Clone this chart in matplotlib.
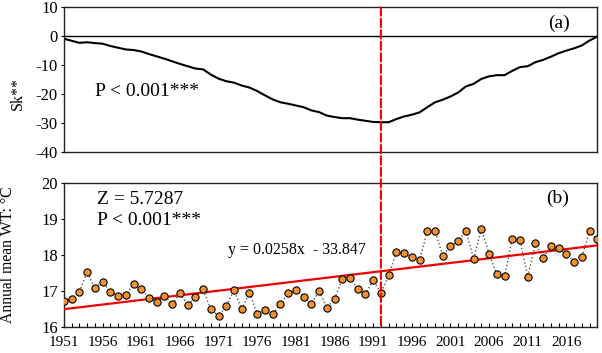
#!/usr/bin/env python

import numpy as np
import matplotlib.pyplot as plt
from matplotlib.patches import ConnectionPatch

# ----------------------------------------------------------------------
# Data
# ----------------------------------------------------------------------

years = np.arange(1951, 2021)

# (a) sequential statistic Sk
sk = [-0.9, -1.6, -2.3, -2.1, -2.4, -2.6, -3.4, -4.0, -4.6, -4.8,
      -5.3, -6.2, -7.0, -7.8, -8.7, -9.6, -10.4, -11.2, -11.5, -13.3,
      -14.7, -15.6, -16.1, -17.1, -17.8, -19.0, -20.5, -21.9, -22.9, -23.4,
      -24.0, -24.6, -25.7, -26.3, -27.5, -28.0, -28.4, -28.4, -28.9, -29.3,
      -29.7, -29.8, -29.8, -28.7, -27.8, -27.2, -26.4, -24.6, -22.9, -22.0,
      -20.9, -19.5, -17.4, -16.5, -14.8, -13.9, -13.5, -13.5, -12.0, -10.7,
      -10.4, -9.0, -8.2, -7.1, -5.9, -5.0, -4.2, -3.2, -1.5, -0.1]

# (b) annual mean water temperature
wt = [16.72, 16.78, 16.98, 17.53, 17.07, 17.25, 16.97, 16.87, 16.89, 17.19,
      17.04, 16.81, 16.69, 16.87, 16.62, 16.95, 16.60, 16.83, 17.04, 16.49,
      16.29, 16.59, 17.01, 16.49, 16.94, 16.35, 16.47, 16.35, 16.64, 16.93,
      17.01, 16.83, 16.64, 17.00, 16.53, 16.77, 17.33, 17.37, 17.05, 16.91,
      17.30, 16.94, 17.43, 18.08, 18.06, 17.95, 17.85, 18.66, 18.67, 17.98,
      18.24, 18.38, 18.68, 17.89, 18.72, 18.03, 17.47, 17.42, 18.46, 18.42,
      17.40, 18.33, 17.92, 18.25, 18.19, 18.03, 17.81, 17.95, 18.66, 18.44]

slope = 0.0258
intercept = -33.847
change_year = 1992

xtick_years = np.arange(1951, 2020, 5)

# ----------------------------------------------------------------------
# Plot
# ----------------------------------------------------------------------

plt.rcParams['font.family'] = ['Liberation Serif', 'DejaVu Serif']
plt.rcParams['axes.unicode_minus'] = False
plt.rcParams['axes.linewidth'] = 1.0
plt.rcParams['axes.edgecolor'] = '#222222'

fig = plt.figure(figsize=(6.02, 3.53), dpi=100)
ax1 = fig.add_axes([0.1063, 0.5703, 0.8859, 0.4090])
ax2 = fig.add_axes([0.1063, 0.0745, 0.8859, 0.4062])

# top panel
ax1.plot(years, sk, color='black', lw=1.5)
ax1.axhline(0, color='black', lw=1.0)
ax1.set_xlim(1951, 2020)
ax1.set_ylim(-40, 10)
ax1.set_yticks(np.arange(-40, 11, 10))
ax1.set_xticks([])
ax1.tick_params(axis='y', direction='out', length=2.5, width=0.8,
                labelsize=12, pad=2)
ax1.set_ylabel('Sk**', fontsize=11.5)
ax1.yaxis.set_label_coords(-0.072, 0.40)
ax1.text(1955.0, -19.0, 'P < 0.001***', fontsize=14, va='center')
ax1.text(2016.4, 4.5, '(a)', fontsize=14, ha='right', va='center')

# bottom panel
trend = slope * years + intercept
ax2.plot(years, wt, ls=':', color='#555555', lw=1.0, zorder=2)
ax2.plot(years, trend, color='#ee0000', lw=1.6, zorder=3)
ax2.plot(years, wt, ls='none', marker='o', ms=5.2, mfc='#f5902f',
         mec='black', mew=0.8, zorder=4)
ax2.set_xlim(1951, 2020)
ax2.set_ylim(16, 20)
ax2.set_yticks(np.arange(16, 21, 1))
ax2.set_xticks(xtick_years)
ax2.set_xticks(years, minor=True)
ax2.tick_params(axis='x', which='both', direction='in', length=3,
                width=0.8, labelsize=11, pad=7)
ax2.tick_params(axis='y', direction='out', length=2.5, width=0.8,
                labelsize=12, pad=2)
ax2.set_ylabel('Annual mean WT: \u00b0C', fontsize=11.3)
ax2.yaxis.set_label_coords(-0.09, 0.5)
ax2.text(1955.3, 19.54, 'Z = 5.7287', fontsize=14, va='center')
ax2.text(1955.3, 18.95, 'P < 0.001***', fontsize=14, va='center')
ax2.text(1972.2, 18.14, 'y = 0.0258x  - 33.847', fontsize=11.5,
         va='center')
ax2.text(2016.4, 19.58, '(b)', fontsize=14, ha='right', va='center')

# dashed change point line through both panels
con = ConnectionPatch(xyA=(change_year, 10), coordsA=ax1.transData,
                      xyB=(change_year, 16), coordsB=ax2.transData,
                      color='#ee0000', lw=1.5, ls=(0, (4, 1.5)), zorder=5)
fig.add_artist(con)

print('Writing file : out.png')
plt.savefig('out.png', dpi=100)
plt.close()
